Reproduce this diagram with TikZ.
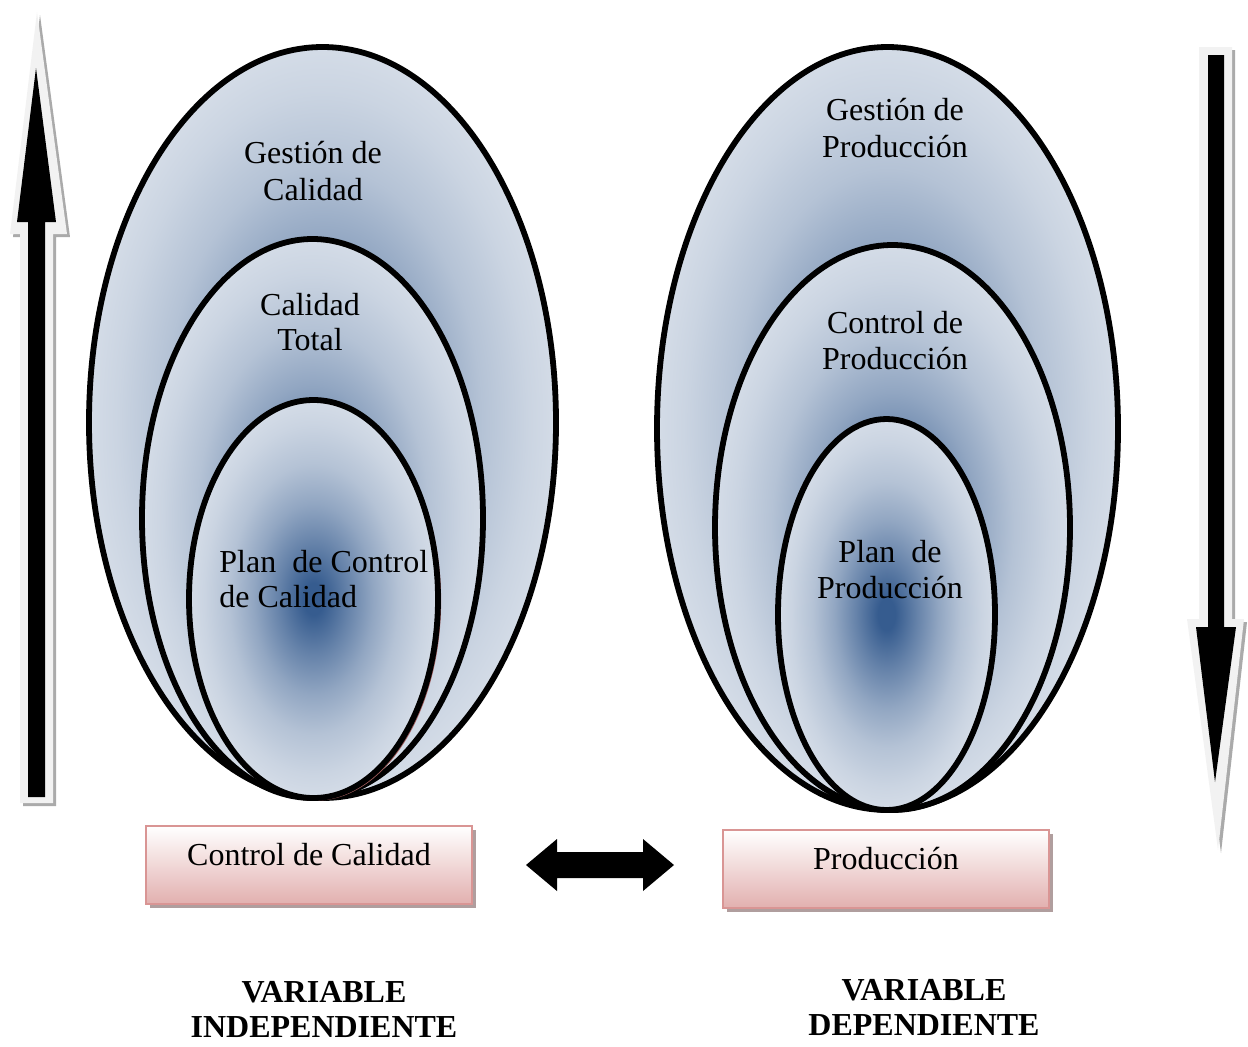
\documentclass[tikz,border=0pt]{standalone}
\usepackage{fontspec}
\setmainfont{Liberation Serif}
\usetikzlibrary{shadows}

\definecolor{ovdark}{RGB}{54,92,143}
\definecolor{ovlight}{RGB}{212,220,231}
\colorlet{ovA}{ovdark!70!ovlight}
\colorlet{ovB}{ovdark!42!ovlight}
\colorlet{ovC}{ovdark!20!ovlight}
\colorlet{ovD}{ovdark!6!ovlight}
\definecolor{boxline}{RGB}{217,149,148}
\definecolor{boxbottom}{RGB}{226,176,175}
\definecolor{boxshadow}{RGB}{176,158,158}
\definecolor{arrowpale}{RGB}{242,242,242}
\definecolor{arrowshadow}{RGB}{170,170,170}
\definecolor{rimred}{RGB}{160,90,90}

\pgfdeclareradialshading{ovalshade}{\pgfpoint{0bp}{0bp}}{%
  color(0bp)=(ovdark); color(2bp)=(ovdark); color(7bp)=(ovA);
  color(12bp)=(ovB); color(17bp)=(ovC); color(22bp)=(ovD);
  color(25bp)=(ovlight); color(50bp)=(ovlight)}

\begin{document}
\begin{tikzpicture}[x=0.5pt,y=-0.5pt,
  oval/.style={draw=black, line width=2.9pt, shading=ovalshade},
  lbl/.style={anchor=base, inner sep=0pt, font=\fontsize{16}{18}\selectfont},
  lblw/.style={lbl, anchor=base west},
  varname/.style={anchor=base, inner sep=0pt, font=\fontsize{16}{18}\selectfont\bfseries},
  varbox/.style={draw=boxline, line width=1.4pt, top color=white, bottom color=boxbottom,
    minimum width=163pt, minimum height=39pt, inner sep=0pt,
    text height=11pt, text depth=11pt, font=\fontsize{16}{18}\selectfont,
    drop shadow={shadow xshift=2pt, shadow yshift=-2pt, fill=boxshadow, opacity=1}},
  palearrow/.style={fill=arrowpale,
    drop shadow={shadow xshift=1.5pt, shadow yshift=-1.5pt, fill=arrowshadow, opacity=1}},
]
\useasboundingbox (0,0) rectangle (1248,1046);

% vertical arrow on the left, pointing up
\path[palearrow] (37,12) -- (67,234) -- (53,234) -- (53,803) -- (20,803) -- (20,234) -- (10,234) -- cycle;
\fill[black] (36,68) -- (56,222) -- (45,222) -- (45,797) -- (28,797) -- (28,222) -- (17,222) -- cycle;

% vertical arrow on the right, pointing down
\path[palearrow] (1199,47) -- (1232,47) -- (1232,619) -- (1244,619) -- (1218,850) -- (1187,619) -- (1199,619) -- cycle;
\fill[black] (1208,55) -- (1224,55) -- (1224,627) -- (1236,627) -- (1215,782) -- (1196,627) -- (1208,627) -- cycle;

% nested ovals: quality
\path[oval] (322.5,422.5) ellipse [x radius=116.75pt, y radius=187.75pt];
\path[oval] (312.5,518.5) ellipse [x radius=85.25pt, y radius=139.75pt];
\draw[rimred, line width=0.6pt] (316,601) ellipse [x radius=62.25pt, y radius=99.5pt];
\path[oval] (313.5,599) ellipse [x radius=62.25pt, y radius=99.5pt];

% nested ovals: production
\path[oval] (887.5,428.5) ellipse [x radius=115.25pt, y radius=190.75pt];
\path[oval] (892.5,527.5) ellipse [x radius=88.75pt, y radius=141.25pt];
\path[oval] (886.5,614.5) ellipse [x radius=54.25pt, y radius=97.75pt];

% oval labels
\node[lbl] (gq1) at (313,163) {Gestión de};
\node[lbl] (gq2) at (313,200) {Calidad};
\node[lbl] (tq1) at (310,315) {Calidad};
\node[lbl] (tq2) at (310,350) {Total};
\node[lblw] (pq1) at (219,572) {Plan\ \ de Control};
\node[lblw] (pq2) at (219,607) {de Calidad};

\node[lbl] (gp1) at (895,120) {Gestión de};
\node[lbl] (gp2) at (895,157) {Producción};
\node[lbl] (cp1) at (895,333) {Control de};
\node[lbl] (cp2) at (895,369) {Producción};
\node[lbl] (pp1) at (890,562) {Plan\ \ de};
\node[lbl] (pp2) at (890,598) {Producción};

% variable boxes
\node[varbox] (quality) at (309,865) {Control de Calidad};
\node[varbox] (production) at (886,869) {Producción};

% two-headed arrow between the boxes
\fill[black] (526,865) -- (557,839) -- (557,852) -- (643,852) -- (643,839) -- (674,865)
  -- (643,891) -- (643,878) -- (557,878) -- (557,891) -- cycle;

% variable names
\node[varname] (vi1) at (324,1002) {VARIABLE};
\node[varname] (vi2) at (324,1037) {INDEPENDIENTE};
\node[varname] (vd1) at (924,1000) {VARIABLE};
\node[varname] (vd2) at (924,1035) {DEPENDIENTE};
\end{tikzpicture}
\end{document}
